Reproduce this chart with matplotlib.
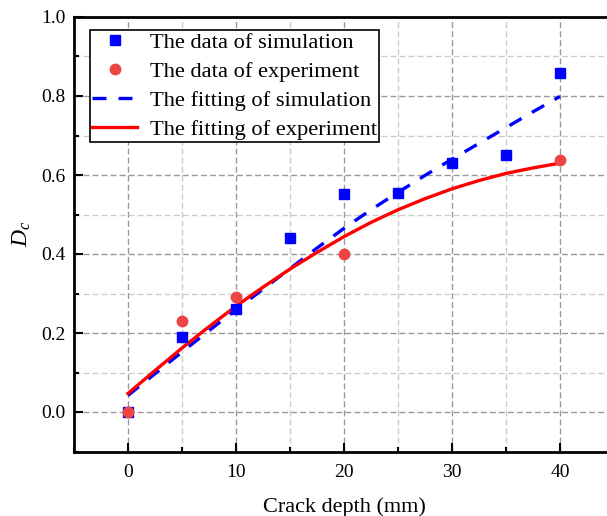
import matplotlib
matplotlib.use("Agg")
import matplotlib.pyplot as plt
from matplotlib.ticker import MultipleLocator, FormatStrFormatter

plt.rcParams['font.family'] = ['Liberation Serif', 'DejaVu Serif']
plt.rcParams['mathtext.fontset'] = 'custom'
plt.rcParams['mathtext.it'] = 'Liberation Serif:italic'
plt.rcParams['mathtext.rm'] = 'Liberation Serif'

# data
sim_x = [0, 5, 10, 15, 20, 25, 30, 35, 40]
sim_y = [0.0, 0.19, 0.26, 0.44, 0.552, 0.555, 0.631, 0.65, 0.858]
exp_x = [0, 5, 10, 20, 40]
exp_y = [0.0, 0.23, 0.29, 0.40, 0.639]

# fitted curves, read every 2.5 mm
fit_x = [0, 2.5, 5, 7.5, 10, 12.5, 15, 17.5, 20, 22.5, 25, 27.5, 30, 32.5, 35, 37.5, 40]
sim_fit = [0.042, 0.097, 0.152, 0.206, 0.259, 0.311, 0.363, 0.415, 0.465,
           0.512, 0.556, 0.599, 0.640, 0.680, 0.720, 0.760, 0.799]
exp_fit = [0.047, 0.105, 0.162, 0.216, 0.268, 0.316, 0.362, 0.404, 0.444,
           0.480, 0.512, 0.540, 0.565, 0.586, 0.604, 0.618, 0.630]

fig = plt.figure(figsize=(6.07, 5.16), dpi=100)
ax = fig.add_axes([74 / 607, 64.5 / 516, 540 / 607, 434.5 / 516])

ax.set_xlim(-5, 45)
ax.set_ylim(-0.1, 1.0)

ax.set_xticks([0, 10, 20, 30, 40])
ax.xaxis.set_minor_locator(MultipleLocator(5))
ax.yaxis.set_major_locator(MultipleLocator(0.2))
ax.yaxis.set_minor_locator(MultipleLocator(0.1))
ax.yaxis.set_major_formatter(FormatStrFormatter('%.1f'))

ax.grid(which='major', color='#999999', linestyle=(0, (4.3, 2.2)), linewidth=1.0)
ax.grid(which='minor', color='#cccccc', linestyle=(0, (4.3, 2.2)), linewidth=1.0)
ax.set_axisbelow(True)

ax.tick_params(which='both', direction='in', labelsize=14, width=1.5)
ax.tick_params(which='major', length=6.5)
ax.tick_params(which='minor', length=3.5)
ax.tick_params(axis='x', which='major', pad=9)
ax.tick_params(axis='y', which='major', pad=6)
ax.tick_params(top=False, right=False, which='both')

for side in ['left', 'bottom', 'top']:
    ax.spines[side].set_linewidth(2)
ax.spines['right'].set_visible(False)

ax.plot(sim_x, sim_y, 's', color='#0000ff', markersize=7, label='The data of simulation', zorder=4)
ax.plot(exp_x, exp_y, 'o', color='#ee4444', markersize=7.5, label='The data of experiment', zorder=5)
ax.plot(fit_x, sim_fit, color='#0000ff', linewidth=2.4, linestyle=(0, (4.2, 3.6)),
        label='The fitting of simulation', zorder=3)
ax.plot(fit_x, exp_fit, color='#ff0000', linewidth=2.4, label='The fitting of experiment', zorder=3)

ax.set_xlabel('Crack depth (mm)', fontsize=16, labelpad=12)
ax.set_ylabel('$D_c$', fontsize=17, labelpad=6)

leg = ax.legend(loc='upper left', bbox_to_anchor=(89.5 / 607, (516 - 29.5) / 516),
                bbox_transform=fig.transFigure, fontsize=16.2, frameon=True, fancybox=False,
                edgecolor='black', borderaxespad=0, borderpad=0.12, handlelength=2.0,
                handletextpad=0.55, labelspacing=0.36, framealpha=1)
leg.get_frame().set_linewidth(1.2)

fig.savefig('out.png', dpi=100)
